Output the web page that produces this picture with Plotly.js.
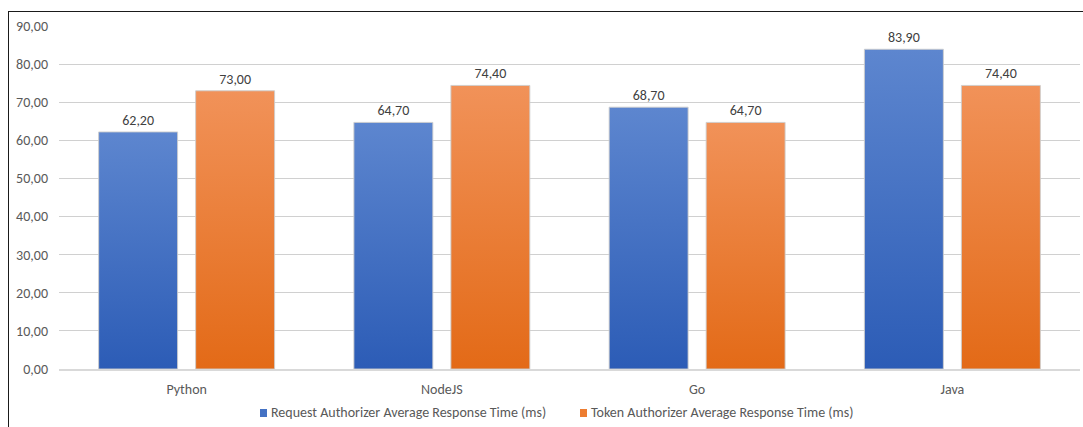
<!DOCTYPE html>
<html>
<head>
<meta charset="utf-8">
<script src="https://cdn.plot.ly/plotly-3.0.1.min.js"></script>
<style>
  html, body { margin: 0; padding: 0; background: #fff; }
  #wrap { position: relative; width: 1083px; height: 427px; overflow: hidden; }
  #chart { position: absolute; left: 0; top: 0; width: 1083px; height: 427px; }
  #frame { position: absolute; left: 8px; top: 11px; width: 1100px; height: 430px;
           border-top: 1.5px solid #1a1a1a; border-left: 1.5px solid #1a1a1a; pointer-events: none; }
</style>
</head>
<body>
<div id="wrap">
  <div id="chart"></div>
  <div id="frame"></div>
</div>
<script>
// Average response time per runtime, in milliseconds
const languages = ['Python', 'NodeJS', 'Go', 'Java'];
const requestAuthorizer = [62.2, 64.7, 68.7, 83.9];
const tokenAuthorizer = [73.0, 74.4, 64.7, 74.4];
const seriesNames = [
  'Request Authorizer Average Response Time (ms)',
  'Token Authorizer Average Response Time (ms)'
];
const yTicks = [0, 10, 20, 30, 40, 50, 60, 70, 80, 90];

const FONT = "Carlito, Calibri, 'Liberation Sans Narrow', 'Liberation Sans', Arial, sans-serif";
const FS = 14;
const blueSolid = '#4472c4';
const orangeSolid = '#ed7d31';

// Plot area in pixels: x 59..1080, y 26..369
const PLOT = { l: 59, r: 1080, t: 26, b: 369 };
const px2x = px => (px - PLOT.l) / (PLOT.r - PLOT.l);
const px2y = py => (PLOT.b - py) / (PLOT.b - PLOT.t);

function barTrace(name, values, color) {
  return {
    type: 'bar',
    name: name,
    x: languages,
    y: values,
    marker: { color: color, line: { color: 'rgba(205,205,205,0.9)', width: 1 } },
    texttemplate: '%{y:.2f}',
    textposition: 'outside',
    cliponaxis: false,
    textfont: { family: FONT, size: FS, color: '#404040' },
    hoverinfo: 'skip',
    showlegend: false
  };
}

const data = [
  barTrace(seriesNames[0], requestAuthorizer, blueSolid),
  barTrace(seriesNames[1], tokenAuthorizer, orangeSolid)
];

// Legend row drawn below the category labels: colour key square + series name
const legendItems = [
  { name: seriesNames[0], color: blueSolid, box: 260, text: 270 },
  { name: seriesNames[1], color: orangeSolid, box: 580, text: 590 }
];
const legendY = 413;

const layout = {
  width: 1083,
  height: 427,
  margin: { l: PLOT.l, r: 1083 - PLOT.r, t: PLOT.t, b: 427 - PLOT.b },
  paper_bgcolor: '#ffffff',
  plot_bgcolor: '#ffffff',
  separators: ', ',
  barmode: 'group',
  bargap: 0.24,
  bargroupgap: 0.186,
  font: { family: FONT, size: FS, color: '#595959' },
  xaxis: {
    type: 'category',
    showgrid: false,
    showline: true,
    linecolor: '#d9d9d9',
    linewidth: 1.5,
    ticks: '',
    tickfont: { family: FONT, size: FS, color: '#595959' },
    ticklabelstandoff: 7,
    fixedrange: true
  },
  yaxis: {
    range: [0, 90],
    tickvals: yTicks,
    tickformat: '.2f',
    showgrid: true,
    gridcolor: '#d0d0d0',
    gridwidth: 1,
    zeroline: false,
    showline: false,
    ticks: '',
    ticklabelstandoff: 10,
    tickfont: { family: FONT, size: FS, color: '#595959' },
    fixedrange: true
  },
  shapes: legendItems.map(it => ({
    type: 'rect', xref: 'paper', yref: 'paper',
    x0: px2x(it.box), x1: px2x(it.box + 7),
    y0: px2y(legendY + 4), y1: px2y(legendY - 4),
    fillcolor: it.color, line: { width: 0 }
  })),
  annotations: legendItems.map(it => ({
    xref: 'paper', yref: 'paper', x: px2x(it.text), y: px2y(legendY),
    xanchor: 'left', yanchor: 'middle', showarrow: false, borderpad: 0,
    text: it.name,
    font: { family: FONT, size: FS, color: '#595959' }
  })),
  showlegend: false
};

// Vertical gradient fills for each series, applied to the rendered bar paths
const gradients = [
  { id: 'gradBlue', top: '#5d86cf', bottom: '#2c5cb6' },
  { id: 'gradOrange', top: '#f19259', bottom: '#e36a17' }
];

function applyGradients(gd) {
  const svg = gd.querySelector('svg.main-svg');
  if (!svg) return;
  let defs = svg.querySelector('defs');
  if (!defs) {
    defs = document.createElementNS('http://www.w3.org/2000/svg', 'defs');
    svg.insertBefore(defs, svg.firstChild);
  }
  gradients.forEach(g => {
    if (defs.querySelector('#' + g.id)) return;
    const lg = document.createElementNS('http://www.w3.org/2000/svg', 'linearGradient');
    lg.setAttribute('id', g.id);
    lg.setAttribute('x1', '0'); lg.setAttribute('y1', '0');
    lg.setAttribute('x2', '0'); lg.setAttribute('y2', '1');
    [['0', g.top], ['1', g.bottom]].forEach(([off, col]) => {
      const st = document.createElementNS('http://www.w3.org/2000/svg', 'stop');
      st.setAttribute('offset', off);
      st.setAttribute('stop-color', col);
      lg.appendChild(st);
    });
    defs.appendChild(lg);
  });
  const traces = gd.querySelectorAll('.barlayer .trace');
  traces.forEach((tr, i) => {
    const g = gradients[i];
    if (!g) return;
    tr.querySelectorAll('.point path').forEach(p => {
      p.style.fill = 'url(#' + g.id + ')';
    });
  });
}

const gd = document.getElementById('chart');
Plotly.newPlot(gd, data, layout, { displayModeBar: false, staticPlot: true }).then(() => {
  applyGradients(gd);
  gd.on('plotly_afterplot', () => applyGradients(gd));
});
</script>
</body>
</html>
